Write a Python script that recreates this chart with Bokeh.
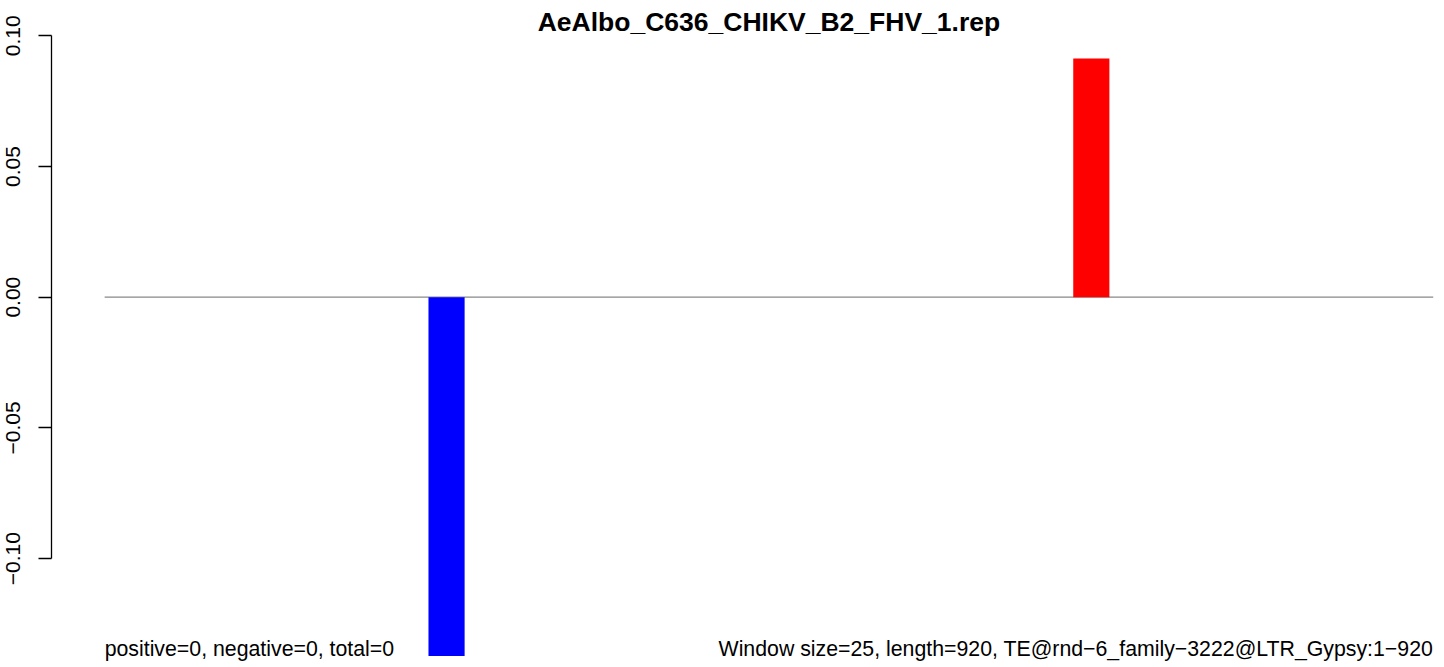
from bokeh.plotting import figure
from bokeh.models import FixedTicker, Range1d, Label, ColumnDataSource
from bokeh.embed import file_html
from bokeh.resources import INLINE

# ---- data ----
title_text = "AeAlbo_C636_CHIKV_B2_FHV_1.rep"
window_size = 25
seq_start = 1
seq_length = 920
bar_starts = [225, 671]
bar_values = [-0.1373, 0.0913]
bar_colors = ["#0000ff", "#ff0000"]
y_ticks = [-0.10, -0.05, 0.00, 0.05, 0.10]
y_tick_labels = ["\u22120.10", "\u22120.05", "0.00", "0.05", "0.10"]
left_note = "positive=0, negative=0, total=0"
right_note = "Window size=25, length=920, TE@rnd\u22126_family\u22123222@LTR_Gypsy:1\u2212920"

FONT = "Liberation Sans"

# ranges (frame covers the full height; axis line bounded to tick span)
y_lo, y_hi = -0.14166, 0.11350
x_lo, x_hi = -35.76, 927.8

p = figure(width=1444, height=667, output_backend="svg", toolbar_location=None,
           x_range=Range1d(x_lo, x_hi), y_range=Range1d(y_lo, y_hi),
           x_axis_location=None,
           min_border_left=51, min_border_right=0, min_border_top=0, min_border_bottom=0)
p.background_fill_color = "white"
p.border_fill_color = "white"
p.outline_line_color = None
p.grid.visible = False

# zero line
p.line(x=[seq_start, seq_length], y=[0, 0], line_color="#888888", line_width=1.3)

# bars
src = ColumnDataSource(dict(
    x=[s + window_size / 2 for s in bar_starts],
    top=bar_values,
    color=bar_colors,
))
p.vbar(x="x", top="top", bottom=0, width=window_size, fill_color="color",
       line_color=None, source=src)

# y axis
ax = p.yaxis[0]
ax.ticker = FixedTicker(ticks=y_ticks)
ax.major_label_overrides = {t: l for t, l in zip(y_ticks, y_tick_labels)}
ax.bounds = (min(y_ticks), max(y_ticks))
ax.minor_tick_line_color = None
ax.major_tick_out = 13
ax.major_tick_in = 0
ax.major_tick_line_color = "black"
ax.major_tick_line_width = 1.3
ax.axis_line_color = "black"
ax.axis_line_width = 1.3
ax.major_label_orientation = "vertical"
ax.major_label_text_font = FONT
ax.major_label_text_font_size = "21px"
ax.major_label_text_color = "black"
ax.major_label_standoff = 18

# title
p.add_layout(Label(x=(seq_start + seq_length) / 2, y=max(y_ticks), y_offset=13.5,
                   text=title_text, text_align="center", text_baseline="alphabetic",
                   text_font=FONT, text_font_style="bold", text_font_size="26.5px",
                   text_color="black"))

# bottom notes
p.add_layout(Label(x=seq_start, y=min(bar_values), y_offset=7.5, text=left_note,
                   text_align="left", text_baseline="alphabetic",
                   text_font=FONT, text_font_size="21.3px", text_color="black"))
p.add_layout(Label(x=seq_length, y=min(bar_values), y_offset=7.5, text=right_note,
                   text_align="right", text_baseline="alphabetic",
                   text_font=FONT, text_font_size="21.3px", text_color="black"))

open("out.html", "w").write(file_html(p, INLINE))
